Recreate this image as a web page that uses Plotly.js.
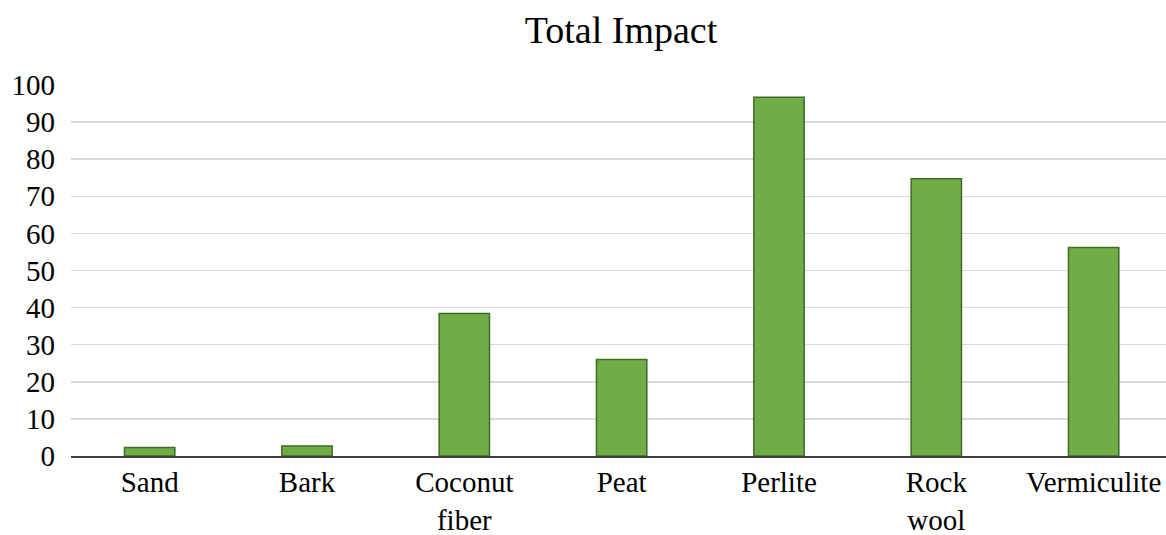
<!DOCTYPE html>
<html>
<head>
<meta charset="utf-8">
<script src="https://cdn.plot.ly/plotly-3.0.1.min.js"></script>
<style>
html,body{margin:0;padding:0;background:#fff;}
#chart{width:1166px;height:535px;}
</style>
</head>
<body>
<div id="chart"></div>
<script>
const categories = ["Sand", "Bark", "Coconut<br>fiber", "Peat", "Perlite", "Rock<br>wool", "Vermiculite"];
const totalImpact = [2.3, 2.7, 38.4, 26.0, 96.7, 74.7, 56.2];
const yTicks = [0, 10, 20, 30, 40, 50, 60, 70, 80, 90, 100];

const font = "'Liberation Serif', 'Times New Roman', serif";

Plotly.newPlot("chart", [{
  type: "bar",
  x: categories,
  y: totalImpact,
  marker: {color: "#70AD47", line: {color: "#3f6b28", width: 1.5}},
  hoverinfo: "x+y"
}], {
  width: 1166,
  height: 535,
  margin: {l: 71, r: 0, t: 85, b: 79},
  paper_bgcolor: "#ffffff",
  plot_bgcolor: "#ffffff",
  bargap: 0.68,
  showlegend: false,
  title: {
    text: "Total Impact",
    font: {family: font, size: 38, color: "#000000"},
    x: 0.5326, xref: "container", xanchor: "center",
    y: 0.944, yref: "container", yanchor: "middle"
  },
  xaxis: {
    type: "category",
    range: [-0.5, 6.46],
    tickfont: {family: font, size: 29, color: "#000000"},
    showgrid: false,
    showline: true,
    linecolor: "#404040",
    linewidth: 1.5,
    ticks: "",
    ticklabelstandoff: 0,
    fixedrange: true
  },
  yaxis: {
    range: [0, 100],
    tickvals: yTicks,
    ticktext: yTicks.map(String),
    tickfont: {family: font, size: 29, color: "#000000"},
    showgrid: true,
    gridcolor: "#d9d9d9",
    gridwidth: 1.5,
    zeroline: false,
    showline: false,
    ticks: "",
    ticklabelstandoff: 15,
    fixedrange: true
  }
}, {displayModeBar: false, staticPlot: true});
</script>
</body>
</html>
